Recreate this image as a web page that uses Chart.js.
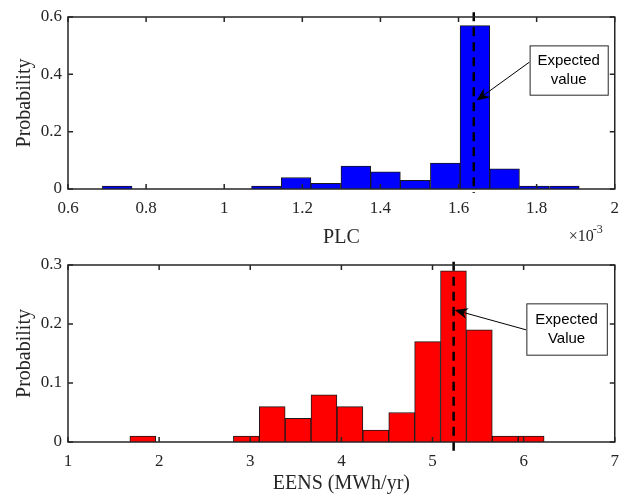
<!DOCTYPE html>
<html>
<head>
<meta charset="utf-8">
<title>PLC / EENS histograms</title>
<script src="https://cdn.jsdelivr.net/npm/chart.js"></script>
<style>
  body { margin: 0; padding: 0; background: #fff; }
  #wrap { position: relative; width: 628px; height: 496px; }
  canvas { display: block; }
</style>
</head>
<body>
<div id="wrap">
  <canvas id="plcChart" width="628" height="248"></canvas>
  <canvas id="eensChart" width="628" height="248"></canvas>
</div>
<script>
// PLC histogram (x in units of 1e-3)
var plcBins = [0.726, 0.803, 0.879, 0.955, 1.031, 1.108, 1.184, 1.260, 1.337, 1.413, 1.489, 1.566, 1.642, 1.718, 1.794, 1.871];
var plcProb = [0.01, null, null, null, null, 0.01, 0.04, 0.02, 0.08, 0.06, 0.03, 0.09, 0.57, 0.07, 0.01, 0.01];
var plcXTicks = [0.6, 0.8, 1, 1.2, 1.4, 1.6, 1.8, 2];
var plcYTicks = [0, 0.2, 0.4, 0.6];
var plcMean = 1.639;

// EENS histogram (MWh/yr)
var eensBins = [1.821, 2.105, 2.389, 2.673, 2.957, 3.241, 3.525, 3.809, 4.094, 4.378, 4.662, 4.946, 5.230, 5.514, 5.798, 6.083];
var eensProb = [0.01, null, null, null, 0.01, 0.06, 0.04, 0.08, 0.06, 0.02, 0.05, 0.17, 0.29, 0.19, 0.01, 0.01];
var eensXTicks = [1, 2, 3, 4, 5, 6, 7];
var eensYTicks = [0, 0.1, 0.2, 0.3];
var eensMean = 5.232;

var serif = 'Liberation Serif';
var sans = 'Liberation Sans';
var axisColor = '#262626';

function toPoints(xs, ys) {
    return xs.map(function (x, i) { return { x: x, y: ys[i] }; });
}

// arrow head a la matlab 'vback2'
function arrowHead(ctx, x0, y0, x1, y1) {
    var ang = Math.atan2(y1 - y0, x1 - x0);
    var len = 13, half = 5.5, back = 9;
    ctx.save();
    ctx.translate(x1, y1);
    ctx.rotate(ang);
    ctx.beginPath();
    ctx.moveTo(0, 0);
    ctx.lineTo(-len, -half);
    ctx.lineTo(-back, 0);
    ctx.lineTo(-len, half);
    ctx.closePath();
    ctx.fill();
    ctx.restore();
}

var matlabAxes = {
    id: 'matlabAxes',
    afterDraw: function (chart, args, opts) {
        var ctx = chart.ctx, a = chart.chartArea;
        var xs = chart.scales.x, ys = chart.scales.y;
        ctx.save();

        // expected value line
        var mx = xs.getPixelForValue(opts.mean);
        ctx.strokeStyle = '#000';
        ctx.lineWidth = 2.5;
        ctx.setLineDash([9, 6]);
        ctx.beginPath();
        ctx.moveTo(mx, ys.getPixelForValue(opts.lineTop));
        ctx.lineTo(mx, ys.getPixelForValue(opts.lineBottom));
        ctx.stroke();
        ctx.setLineDash([]);

        // box and inward ticks
        ctx.strokeStyle = axisColor;
        ctx.lineWidth = 1.5;
        ctx.strokeRect(a.left, a.top, a.right - a.left, a.bottom - a.top);
        ctx.beginPath();
        xs.ticks.forEach(function (t) {
            var px = xs.getPixelForValue(t.value);
            ctx.moveTo(px, a.bottom); ctx.lineTo(px, a.bottom - 5);
            ctx.moveTo(px, a.top); ctx.lineTo(px, a.top + 5);
        });
        ys.ticks.forEach(function (t) {
            var py = ys.getPixelForValue(t.value);
            ctx.moveTo(a.left, py); ctx.lineTo(a.left + 5, py);
            ctx.moveTo(a.right, py); ctx.lineTo(a.right - 5, py);
        });
        ctx.stroke();

        // annotation arrow
        var n = opts.note;
        var ax0 = xs.getPixelForValue(n.from[0]), ay0 = ys.getPixelForValue(n.from[1]);
        var ax1 = xs.getPixelForValue(n.to[0]), ay1 = ys.getPixelForValue(n.to[1]);
        ctx.strokeStyle = '#000';
        ctx.fillStyle = '#000';
        ctx.lineWidth = 1;
        ctx.beginPath();
        ctx.moveTo(ax0, ay0);
        ctx.lineTo(ax1 + (ax0 - ax1) * 0.05, ay1 + (ay0 - ay1) * 0.05);
        ctx.stroke();
        arrowHead(ctx, ax0, ay0, ax1, ay1);

        // annotation text box
        var bx0 = xs.getPixelForValue(n.box[0]), bx1 = xs.getPixelForValue(n.box[1]);
        var by0 = ys.getPixelForValue(n.box[2]), by1 = ys.getPixelForValue(n.box[3]);
        ctx.fillStyle = '#fff';
        ctx.fillRect(bx0, by0, bx1 - bx0, by1 - by0);
        ctx.strokeStyle = axisColor;
        ctx.strokeRect(bx0 + 0.5, by0 + 0.5, bx1 - bx0, by1 - by0);
        ctx.fillStyle = '#000';
        ctx.font = '15px ' + sans;
        ctx.textAlign = 'center';
        ctx.textBaseline = 'middle';
        var cx = (bx0 + bx1) / 2, cy = (by0 + by1) / 2;
        ctx.fillText(n.text[0], cx, cy - 9.5);
        ctx.fillText(n.text[1], cx, cy + 9.5);

        // exponent label
        if (opts.exponent) {
            ctx.fillStyle = axisColor;
            ctx.textAlign = 'left';
            ctx.textBaseline = 'alphabetic';
            ctx.font = '16px ' + serif;
            ctx.fillText('\u00d710', a.right - 46, a.bottom + 52);
            ctx.font = '12px ' + serif;
            ctx.fillText('-3', a.right - 22, a.bottom + 44);
        }
        ctx.restore();
    }
};

function makeHist(id, bins, probs, color, xTicks, yTicks, xTitle, axisH, titleLH, extra) {
    var ctx = document.getElementById(id).getContext('2d');
    return new Chart(ctx, {
        type: 'bar',
        data: {
            datasets: [{
                data: toPoints(bins, probs),
                backgroundColor: color,
                borderColor: '#1a1a1a',
                borderWidth: 1,
                barPercentage: 1,
                categoryPercentage: 1
            }]
        },
        options: {
            responsive: false,
            animation: false,
            layout: { padding: { left: 0, right: 13, top: 17, bottom: 0 } },
            plugins: {
                legend: { display: false },
                tooltip: { enabled: false },
                matlabAxes: extra
            },
            scales: {
                x: {
                    type: 'linear',
                    offset: false,
                    min: xTicks[0],
                    max: xTicks[xTicks.length - 1],
                    afterBuildTicks: function (s) { s.ticks = xTicks.map(function (v) { return { value: v }; }); },
                    afterFit: function (s) { s.height = axisH; },
                    grid: { display: false, drawTicks: false },
                    border: { display: false },
                    ticks: { color: axisColor, padding: 9, font: { family: serif, size: 17 }, maxRotation: 0,
                             callback: function (v) { return String(v); } },
                    title: { display: true, text: xTitle, color: axisColor, padding: 0,
                             font: { family: serif, size: 20, lineHeight: titleLH } }
                },
                y: {
                    min: yTicks[0],
                    max: yTicks[yTicks.length - 1],
                    afterBuildTicks: function (s) { s.ticks = yTicks.map(function (v) { return { value: v }; }); },
                    afterFit: function (s) { s.width = 68; },
                    grid: { display: false, drawTicks: false },
                    border: { display: false },
                    ticks: { color: axisColor, padding: 6, font: { family: serif, size: 17 },
                             callback: function (v) { return String(v); } },
                    title: { display: true, text: 'Probability', color: axisColor, padding: { top: 13, bottom: 0 },
                             font: { family: serif, size: 20, lineHeight: 1.2 } }
                }
            }
        },
        plugins: [matlabAxes]
    });
}

makeHist('plcChart', plcBins, plcProb, '#0000ff', plcXTicks, plcYTicks, 'PLC', 59, 1, {
    mean: plcMean, lineTop: 0.617, lineBottom: -0.014, exponent: true,
    note: { box: [1.782, 1.982, 0.501, 0.329], from: [1.782, 0.443], to: [1.646, 0.309], text: ['Expected', 'value'] }
});

makeHist('eensChart', eensBins, eensProb, '#ff0000', eensXTicks, eensYTicks, 'EENS (MWh/yr)', 54, 1.2, {
    mean: eensMean, lineTop: 0.3056, lineBottom: -0.022, exponent: false,
    note: { box: [6.03, 6.913, 0.235, 0.148], from: [6.03, 0.190], to: [5.244, 0.2236], text: ['Expected', 'Value'] }
});
</script>
</body>
</html>
